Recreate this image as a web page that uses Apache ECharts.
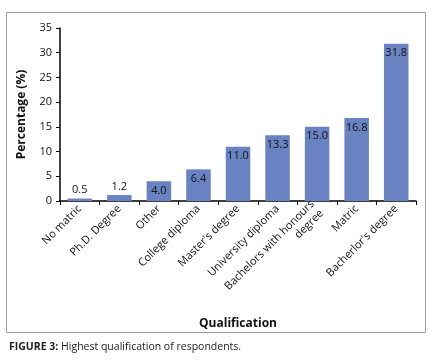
<!DOCTYPE html>
<html>
<head>
<meta charset="utf-8">
<script src="https://cdn.jsdelivr.net/npm/echarts@6/dist/echarts.min.js"></script>
<style>
  html, body { margin: 0; padding: 0; background: #fff; }
  #chart { width: 432px; height: 362px; }
</style>
</head>
<body>
<div id="chart"></div>
<script>
const categories = [
  'No matric',
  'Ph.D. Degree',
  'Other',
  'College diploma',
  "Master's degree",
  'University diploma',
  'Bachelors with honours\ndegree',
  'Matric',
  "Bacherlor's degree"
]
const values = [0.5, 1.2, 4.0, 6.4, 11.0, 13.3, 15.0, 16.8, 31.8]
// small bars keep their label above the bar
const labelAbove = [true, true, false, false, false, false, false, false, false]

const font = '"Open Sans", "Liberation Sans", sans-serif'
const chart = echarts.init(document.getElementById('chart'))

const option = {
  animation: false,
  textStyle: { fontFamily: font },
  title: {
    left: 4,
    top: 337,
    text: '{b|FIGURE 3:} Highest qualification of respondents.',
    textStyle: {
      fontSize: 10.5,
      fontWeight: 'normal',
      color: '#222',
      fontFamily: font,
      rich: { b: { fontWeight: 'bold', fontSize: 10.5, color: '#222', fontFamily: font } }
    }
  },
  graphic: [
    {
      type: 'rect',
      shape: { x: 6.5, y: 12.5, width: 419, height: 320 },
      style: { fill: 'none', stroke: '#9a9a9a', lineWidth: 1 },
      silent: true
    }
  ],
  grid: { left: 60, right: 16, top: 28, bottom: 161 },
  xAxis: {
    type: 'category',
    data: categories,
    name: 'Qualification',
    nameLocation: 'middle',
    nameGap: 117,
    nameTextStyle: { fontSize: 12, fontWeight: 'bold', color: '#111' },
    axisLine: { lineStyle: { color: '#000', width: 1.5 } },
    axisTick: { show: true, alignWithLabel: false, length: 4, lineStyle: { color: '#000' } },
    axisLabel: {
      interval: 0,
      rotate: 45,
      margin: 6,
      fontSize: 11,
      color: '#111',
      lineHeight: 13
    }
  },
  yAxis: {
    type: 'value',
    min: 0,
    max: 35,
    interval: 5,
    name: 'Percentage (%)',
    nameLocation: 'middle',
    nameGap: 32,
    nameTextStyle: { fontSize: 12, fontWeight: 'bold', color: '#111' },
    axisLine: { show: true, lineStyle: { color: '#000', width: 1.5 } },
    axisTick: { show: true, length: 4, lineStyle: { color: '#000' } },
    axisLabel: { fontSize: 11, color: '#111', margin: 8 },
    splitLine: { show: false }
  },
  series: [
    {
      type: 'bar',
      barCategoryGap: '38%',
      itemStyle: { color: '#6882c2' },
      data: values.map((v, i) => ({
        value: v,
        label: {
          show: true,
          position: labelAbove[i] ? 'top' : 'insideTop',
          distance: labelAbove[i] ? 3 : 4,
          formatter: (p) => p.value.toFixed(1),
          fontSize: 11,
          color: '#111'
        }
      }))
    }
  ]
}

chart.setOption(option)
</script>
</body>
</html>
